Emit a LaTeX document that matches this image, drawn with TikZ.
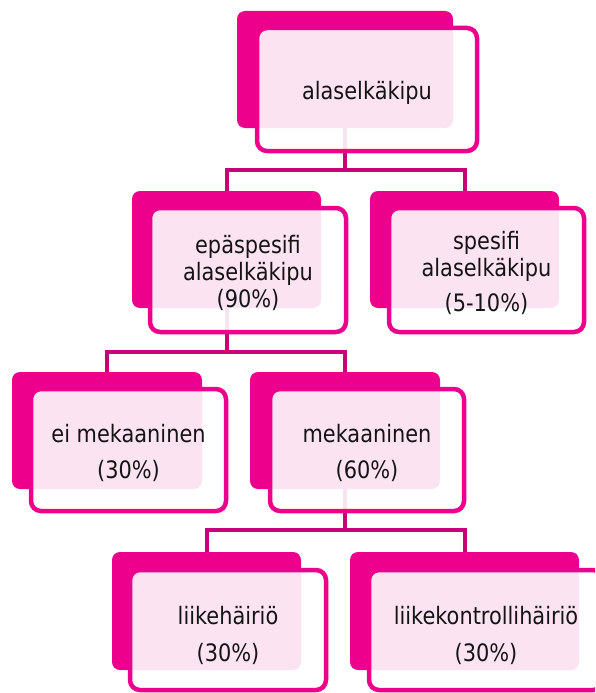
\documentclass[tikz,border=0pt]{standalone}
\usepackage{fontspec}
\setmainfont{DejaVu Sans}[FakeStretch=0.87]
\usetikzlibrary{backgrounds}
\definecolor{mag}{RGB}{236,0,140}
\definecolor{conncol}{RGB}{200,0,122}
\definecolor{txt}{RGB}{20,20,20}
\begin{document}
\begin{tikzpicture}[x=1pt,y=-1pt,
 backbox/.style={fill=mag, rounded corners=8pt, inner sep=0pt, outer sep=0pt},
 frontbox/.style={draw=mag, line width=4.5pt, fill=white, fill opacity=0.89, rounded corners=10pt, inner sep=0pt},
 lbl/.style={text=txt, inner sep=0pt, align=center, font=\fontsize{24}{27}\selectfont},
 conn/.style={draw=conncol, line width=4pt}]
\useasboundingbox (0,0) rectangle (595,693);
\clip (0,0) rectangle (595,693);
% back boxes
\node[backbox, minimum width=216pt, minimum height=117pt] (b1) at (345,69.5) {};
\node[backbox, minimum width=189pt, minimum height=117pt] (b2) at (226.5,249.5) {};
\node[backbox, minimum width=189pt, minimum height=117pt] (b3) at (464.5,249.5) {};
\node[backbox, minimum width=190pt, minimum height=117pt] (b4) at (107,430.5) {};
\node[backbox, minimum width=190pt, minimum height=117pt] (b5) at (345,430.5) {};
\node[backbox, minimum width=189pt, minimum height=118pt] (b6) at (206.5,611) {};
\node[backbox, minimum width=229pt, minimum height=118pt] (b7) at (464.5,611) {};
% front boxes
\node[frontbox, minimum width=220pt, minimum height=123pt] (f1) at (367,89.5) {};
\node[frontbox, minimum width=196pt, minimum height=124pt] (f2) at (248,270) {};
\node[frontbox, minimum width=195pt, minimum height=124pt] (f3) at (486.5,270) {};
\node[frontbox, minimum width=195pt, minimum height=122pt] (f4) at (128.5,450) {};
\node[frontbox, minimum width=194pt, minimum height=122pt] (f5) at (367,450) {};
\node[frontbox, minimum width=196pt, minimum height=120pt] (f6) at (228,630) {};
\node[frontbox, minimum width=234pt, minimum height=120pt] (f7) at (486,630) {};
% texts
\node[lbl] (t1) at (367,92.5) {alaselkäkipu};
\node[lbl] (t2) at (248,273) {epäspesifi\\alaselkäkipu\\(90\%)};
\node[lbl] (t3) at (486.5,272.5) {spesifi\\alaselkäkipu\\[8pt](5-10\%)};
\node[lbl] (t4) at (128.5,452.5) {ei mekaaninen\\[9pt](30\%)};
\node[lbl] (t5) at (367,452.5) {mekaaninen\\[9pt](60\%)};
\node[lbl] (t6) at (228,635) {liikehäiriö\\[10pt](30\%)};
\node[lbl] (t7) at (486,635) {liikekontrollihäiriö\\[10pt](30\%)};
% junctions
\coordinate (j1) at (345,170);
\coordinate (j2) at (226.5,352);
\coordinate (j3) at (345,530);
\begin{pgfonlayer}{background}
\draw[conn] (b1.south) -- (j1);
\draw[conn] (b2.north) |- (j1) -| (b3.north);
\draw[conn] (b2.south) -- (j2);
\draw[conn] (b4.north) |- (j2) -| (b5.north);
\draw[conn] (b5.south) -- (j3);
\draw[conn] (b6.north) |- (j3) -| (b7.north);
\end{pgfonlayer}
\end{tikzpicture}
\end{document}
